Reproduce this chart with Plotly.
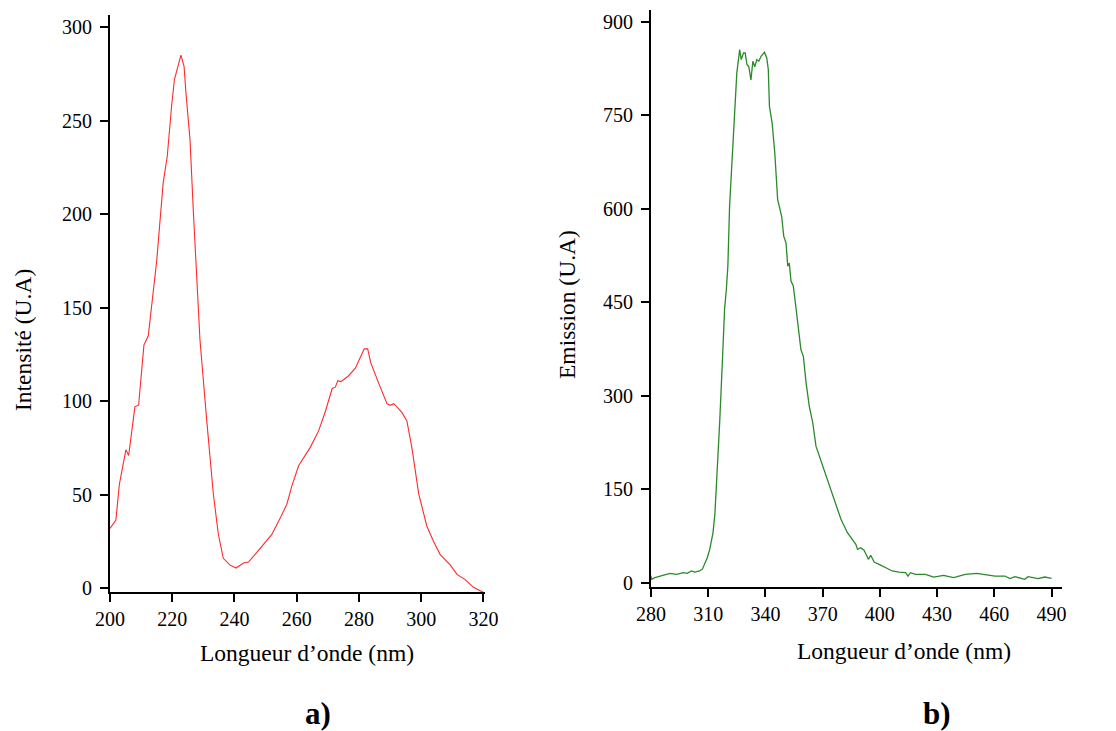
import plotly.graph_objects as go

# ---- Data: panel a) absorption spectrum ----
wl_a = [200, 201.9, 203, 205.1, 206, 208, 209.2, 210.9, 212.3, 215, 217.1, 218.4, 219.8, 220.7,
        222.8, 223.8, 224.4, 225.7, 226.8, 228.1, 228.9, 231.1, 233.2, 234.8, 236.4, 238.5, 240.5,
        242.9, 244.5, 247.1, 250.4, 252, 254.7, 256.8, 258.4, 260.6, 264.3, 267, 269.2, 271.4,
        272.4, 273.2, 274.2, 276.6, 278.8, 280.4, 281.7, 282.8, 283.8, 286.3, 289, 290.1, 291.2,
        293.8, 295.4, 297, 299.2, 301.8, 303.9, 306.1, 309.3, 311.5, 314.1, 316.8, 319, 320.3]
int_a = [32, 36.5, 55.5, 74, 71, 97, 98, 130, 135, 175, 217, 231, 258, 272,
         285, 279, 265, 240, 201, 154, 133, 89.5, 50.5, 29, 16, 12.5, 10.8,
         13.5, 14, 19, 26, 28.8, 37.5, 44.8, 54.5, 65.5, 75.2, 84, 94.5, 106.8,
         107.5, 111, 110.5, 113.5, 117.5, 123, 128, 128, 120.5, 109.8, 98.7, 97.8, 98.7,
         94, 89.5, 75.2, 50.5, 33.3, 25.3, 18, 12.5, 7.4, 4.6, 0.5, -1.5, -2.5]

# ---- Data: panel b) emission spectrum ----
wl_b = [279.6, 280.4, 282, 284.7, 288.2, 290, 293.4, 296.9, 299, 301.2, 303, 305.5, 307, 308.2,
        309.5, 310.8, 312.5, 313.5, 314.3, 315.2, 316, 317.4, 318.6, 319.5, 320.3, 321.2, 322.6,
        323.8, 325, 326.5, 327.3, 328.5, 329.4, 330.3, 331.3, 332.4, 333.4, 334.4, 335.5, 336.5,
        337.7, 339.5, 340.7, 341.5, 342.1, 343.5, 344.9, 346.4, 348.5, 349.6, 350.8, 351.7, 352.5,
        353.4, 354.6, 355.7, 356.9, 358.6, 359.9, 361.3, 363, 364.8, 366.5, 369.1, 371.7, 374.3,
        376.9, 379.6, 383, 385.6, 387.4, 388.3, 390, 391.7, 394, 395.2, 397, 399.6, 403.1, 406.5,
        410, 413.5, 414.7, 416.1, 418.7, 423.9, 428.2, 433.4, 438.7, 444.8, 450.8, 455.2, 460.4,
        465.6, 468.2, 470.8, 476, 477.7, 483, 486.5, 490]
em_b = [13, 5.5, 8, 10.6, 13.3, 15, 13.3, 16, 15, 18.7, 17, 18.7, 22, 29.4,
        40, 53.4, 80, 110, 155, 205, 256.7, 353, 440, 470, 507.9, 604.2, 678.7,
        759, 818, 855.4, 839.4, 850, 850, 831.5, 828, 806.6, 836.8, 828, 839.4, 836.8,
        844.8, 851.2, 842, 823.5, 764.7, 738, 690, 615, 588, 556, 545, 508, 513,
        484, 476, 449, 417, 374, 363, 321, 283, 257, 219, 195, 171, 150,
        123, 101.6, 80.2, 69.5, 61.4, 53.4, 56, 52, 37.4, 44, 33, 29.4, 24, 18.7,
        17, 16, 10.6, 16, 13.3, 13.3, 9, 11.8, 8, 13.3, 15, 13.3, 10.6,
        10.6, 6.4, 9.6, 5.3, 9.6, 6.4, 9, 7]

ticks_xa = [200, 220, 240, 260, 280, 300, 320]
ticks_ya = [0, 50, 100, 150, 200, 250, 300]
ticks_xb = [280, 310, 340, 370, 400, 430, 460, 490]
ticks_yb = [0, 150, 300, 450, 600, 750, 900]

W, H = 1116, 731
FONT = "Liberation Serif, Times New Roman, serif"

fig = go.Figure()
fig.add_trace(go.Scatter(x=wl_a, y=int_a, mode="lines",
                         line=dict(color="#ff2a2a", width=1.1),
                         xaxis="x", yaxis="y", showlegend=False))
fig.add_trace(go.Scatter(x=wl_b, y=em_b, mode="lines",
                         line=dict(color="#2a8a2a", width=1.3),
                         xaxis="x2", yaxis="y2", showlegend=False))

axis_common = dict(showline=True, linecolor="black", linewidth=2, showgrid=False, zeroline=False,
                   ticks="outside", ticklen=8, tickwidth=1.5, tickcolor="black", automargin=False,
                   tickfont=dict(family=FONT, size=20, color="black"))

def px_x(p):
    return p / W

def px_y(p):
    return 1 - p / H

fig.update_layout(
    width=W, height=H, autosize=False,
    margin=dict(l=0, r=0, t=0, b=0, pad=0),
    paper_bgcolor="white", plot_bgcolor="white",
    xaxis=dict(domain=[px_x(110), px_x(485)], range=[200, 320.5], tickvals=ticks_xa,
               anchor="y", **axis_common),
    yaxis=dict(domain=[px_y(592), px_y(15)], range=[-2, 306.5], tickvals=ticks_ya,
               anchor="x", ticklabelstandoff=4, **axis_common),
    xaxis2=dict(domain=[px_x(651), px_x(1062)], range=[280, 495.5], tickvals=ticks_xb,
                anchor="y2", **axis_common),
    yaxis2=dict(domain=[px_y(587), px_y(10)], range=[-7, 919], tickvals=ticks_yb,
                anchor="x2", ticklabelstandoff=4, **axis_common),
)

title_font = dict(family=FONT, size=23.5, color="black")
label_font = dict(family=FONT, size=31, color="black")
annots = [
    dict(text="Longueur d\u2019onde (nm)", x=px_x(307), y=px_y(653), font=title_font),
    dict(text="Longueur d\u2019onde (nm)", x=px_x(904), y=px_y(651), font=title_font),
    dict(text="Intensit\u00e9 (U.A)", x=px_x(23), y=px_y(340), font=title_font, textangle=-90),
    dict(text="Emission (U.A)", x=px_x(567), y=px_y(305), font=title_font, textangle=-90),
    dict(text="<b>a)</b>", x=px_x(318), y=px_y(713), font=label_font),
    dict(text="<b>b)</b>", x=px_x(937), y=px_y(713), font=label_font),
]
for a in annots:
    fig.add_annotation(xref="paper", yref="paper", xanchor="center", yanchor="middle",
                       showarrow=False, **a)

fig.write_html(
    "out.html",
    config={"displayModeBar": False},
    post_script="document.body.style.margin='0';document.body.style.padding='0';"
                "document.documentElement.style.overflow='hidden';",
)
